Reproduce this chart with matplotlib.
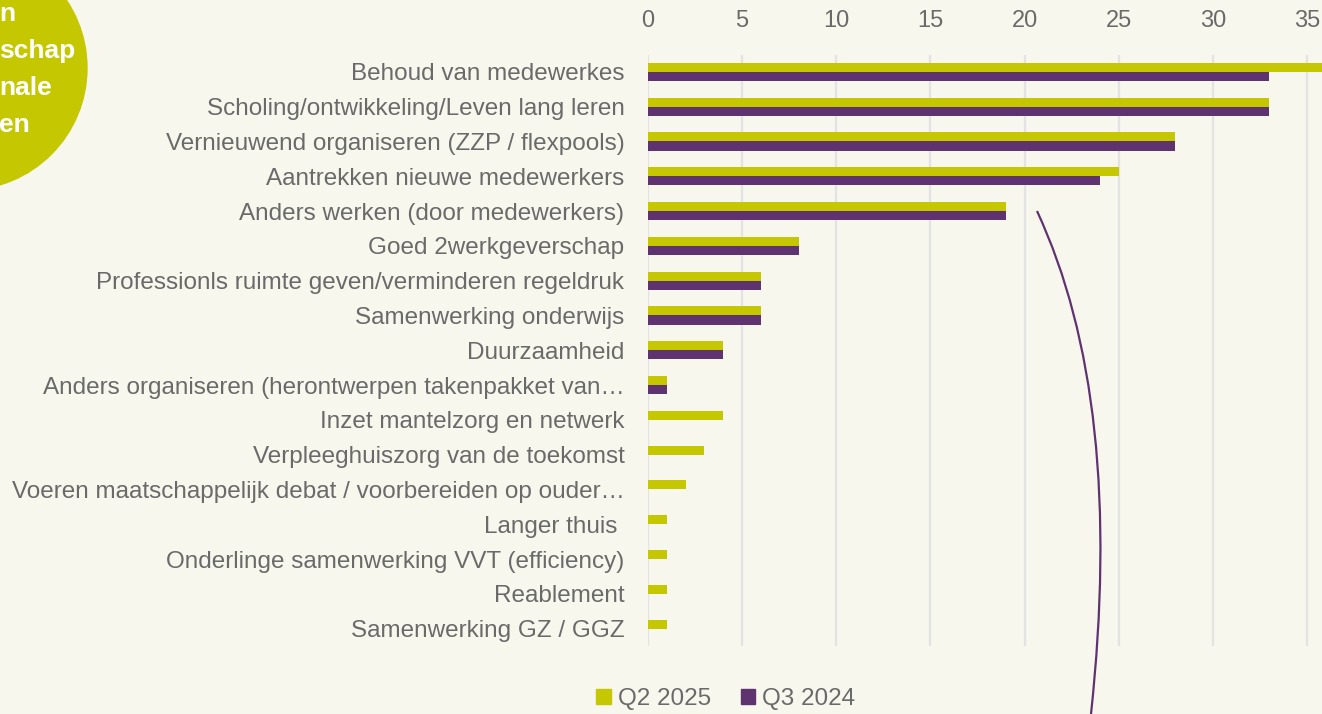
import matplotlib.pyplot as plt
import numpy as np
from matplotlib.patches import Circle, PathPatch, Patch
from matplotlib.path import Path

categories = [
    'Behoud van medewerkes',
    'Scholing/ontwikkeling/Leven lang leren',
    'Vernieuwend organiseren (ZZP / flexpools)',
    'Aantrekken nieuwe medewerkers',
    'Anders werken (door medewerkers)',
    'Goed 2werkgeverschap',
    'Professionls ruimte geven/verminderen regeldruk',
    'Samenwerking onderwijs',
    'Duurzaamheid',
    'Anders organiseren (herontwerpen takenpakket van…',
    'Inzet mantelzorg en netwerk',
    'Verpleeghuiszorg van de toekomst',
    'Voeren maatschappelijk debat / voorbereiden op ouder…',
    'Langer thuis ',
    'Onderlinge samenwerking VVT (efficiency)',
    'Reablement',
    'Samenwerking GZ / GGZ',
]
q2_2025 = [36, 33, 28, 25, 19, 8, 6, 6, 4, 1, 4, 3, 2, 1, 1, 1, 1]
q3_2024 = [33, 33, 28, 24, 19, 8, 6, 6, 4, 1, 0, 0, 0, 0, 0, 0, 0]
x_ticks = [0, 5, 10, 15, 20, 25, 30, 35, 40]

bg = '#F8F7EE'
green = '#C5C800'
purple = '#5F3370'
grey = '#6A6A6A'

plt.rcParams['font.family'] = ['Liberation Sans', 'DejaVu Sans']

W, H = 1322, 714
fig = plt.figure(figsize=(W / 100, H / 100), dpi=100, facecolor=bg)

# axis: 0 at x=648, 18.83 px per unit, rows from y=54.5 to 646
x0, unit = 648, 18.83
top, bottom = 54.5, 646
ax = fig.add_axes([x0 / W, (H - bottom) / H, 40 * unit / W, (bottom - top) / H])
ax.set_facecolor(bg)

y = np.arange(len(categories))
h = 0.26
ax.barh(y - h / 2, q2_2025, height=h, color=green, label='Q2 2025', zorder=3)
ax.barh(y + h / 2, q3_2024, height=h, color=purple, label='Q3 2024', zorder=3)

ax.set_xlim(0, 40)
ax.set_ylim(len(categories) - 0.5, -0.5)
ax.set_xticks(x_ticks)
ax.xaxis.tick_top()
ax.tick_params(axis='x', length=0, labelsize=17, labelcolor=grey, pad=16)
ax.set_yticks(y)
ax.set_yticklabels(categories)
ax.tick_params(axis='y', length=0, labelsize=17.5, labelcolor=grey, pad=17)
ax.grid(axis='x', color='#E3E3E3', linewidth=1.6, zorder=0)
for s in ax.spines.values():
    s.set_visible(False)

handles = [Patch(color=green, label='Q2 2025'), Patch(color=purple, label='Q3 2024')]
fig.legend(handles=handles, loc='center', bbox_to_anchor=(726 / W, 1 - 699 / H),
           ncol=2, frameon=False, fontsize=17.5, labelcolor=grey,
           handlelength=0.6, handleheight=0.6, handletextpad=0.3, columnspacing=1.2)

# decorative circle at the top left
fig_ax = fig.add_axes([0, 0, 1, 1], zorder=-1)
fig_ax.set_xlim(0, W)
fig_ax.set_ylim(H, 0)
fig_ax.axis('off')
fig_ax.add_patch(Circle((-35, 68), 122, color=green, zorder=1))
for txt, ty in [('n', 14), ('schap', 51), ('nale', 88), ('en', 125)]:
    fig_ax.text(-1, ty, txt, color='white', fontsize=19, fontweight='bold',
                ha='left', va='center', zorder=2)

# decorative curved line
verts = [(1037, 211), (1125, 400), (1091, 714)]
arc = Path(verts, [Path.MOVETO, Path.CURVE3, Path.CURVE3])
fig_overlay = fig.add_axes([0, 0, 1, 1], zorder=5)
fig_overlay.set_xlim(0, W)
fig_overlay.set_ylim(H, 0)
fig_overlay.axis('off')
fig_overlay.patch.set_alpha(0)
fig_overlay.add_patch(PathPatch(arc, facecolor='none', edgecolor=purple, linewidth=1.6))

fig.savefig('out.png', dpi=100, facecolor=bg)
